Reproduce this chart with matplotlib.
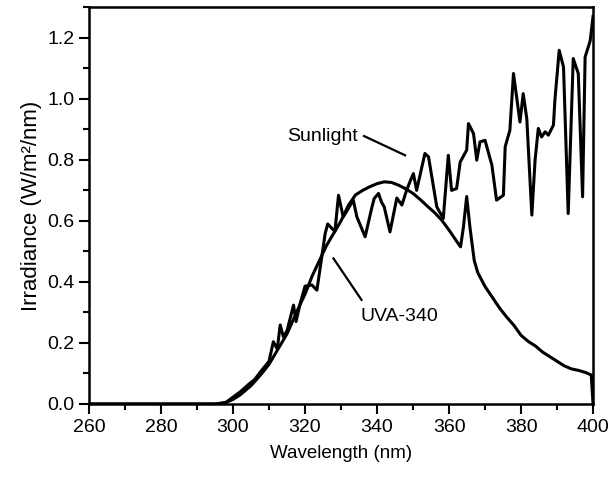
import matplotlib
matplotlib.use("Agg")

import matplotlib.pyplot as plt
from matplotlib.ticker import MultipleLocator, FormatStrFormatter

plt.rcParams["font.family"] = ["Liberation Sans", "DejaVu Sans"]

# Sunlight spectrum (nm, W/m2/nm)
sun_nm = [260, 296, 298, 299.6, 302, 304.7, 306, 308, 310, 311.2, 312.3, 313.1, 314, 315,
          316.8, 317.5, 318.6, 320, 321.9, 323.3, 325.6, 326.3, 328.3, 329.3, 330.6, 331.5,
          333.4, 334.4, 336.7, 338.5, 339.2, 340.4, 341.3, 342, 343.6, 345.5, 346.9, 348.2,
          349.2, 350.1, 351, 353.3, 354.3, 356.6, 358.4, 359.8, 360.7, 362.1, 363.1, 364.9,
          365.4, 366.8, 367.7, 368.6, 370, 371.9, 373.2, 375.1, 375.6, 376.9, 377.9, 379.7,
          380.6, 381.6, 383, 383.9, 384.8, 385.7, 386.7, 387.6, 389, 389.4, 390.6, 391.8,
          393.1, 394.5, 395.9, 397.1, 397.8, 399.2, 400]
sun_val = [0.0, 0.0, 0.005, 0.019, 0.04, 0.068, 0.08, 0.111, 0.14, 0.204, 0.18, 0.259, 0.22, 0.24,
           0.324, 0.27, 0.327, 0.386, 0.39, 0.373, 0.559, 0.59, 0.565, 0.684, 0.613, 0.63,
           0.668, 0.613, 0.548, 0.641, 0.673, 0.69, 0.66, 0.646, 0.564, 0.675, 0.652, 0.70,
           0.73, 0.755, 0.70, 0.821, 0.81, 0.646, 0.608, 0.815, 0.70, 0.706, 0.793, 0.832,
           0.919, 0.886, 0.799, 0.859, 0.864, 0.783, 0.668, 0.684, 0.843, 0.897, 1.083, 0.924,
           1.017, 0.935, 0.619, 0.799, 0.903, 0.875, 0.892, 0.881, 0.914, 0.995, 1.159, 1.104,
           0.624, 1.132, 1.083, 0.679, 1.137, 1.19, 1.27]

# UVA-340 lamp spectrum
uva_nm = [260, 295, 298, 300, 302, 305, 308, 310, 312, 315, 318, 320, 322, 324, 326, 328,
          330, 332, 334, 336, 338, 340, 342, 344, 346, 348, 350, 352, 354, 356, 358, 360,
          362, 363.2, 364, 364.9, 365.8, 367, 368, 370, 372, 374, 376, 378, 380, 382, 384,
          386, 388, 390, 392, 394, 396, 398, 399.5, 400]
uva_val = [0.0, 0.0, 0.005, 0.015, 0.03, 0.06, 0.10, 0.13, 0.17, 0.23, 0.31, 0.36, 0.42, 0.47,
           0.52, 0.56, 0.60, 0.65, 0.685, 0.70, 0.712, 0.722, 0.728, 0.726, 0.717, 0.705,
           0.69, 0.67, 0.648, 0.627, 0.602, 0.57, 0.535, 0.515, 0.58, 0.68, 0.58, 0.47, 0.43,
           0.385, 0.35, 0.315, 0.285, 0.258, 0.225, 0.205, 0.19, 0.17, 0.155, 0.14, 0.125,
           0.115, 0.11, 0.103, 0.095, 0.0]

fig = plt.figure(figsize=(6.11, 4.79), dpi=100)
ax = fig.add_axes([0.1457, 0.1566, 0.8249, 0.8282])

ax.plot(sun_nm, sun_val, color="black", lw=2.2)
ax.plot(uva_nm, uva_val, color="black", lw=2.2)

ax.set_xlim(260, 400)
ax.set_ylim(0, 1.3)
ax.xaxis.set_major_locator(MultipleLocator(20))
ax.xaxis.set_minor_locator(MultipleLocator(10))
ax.yaxis.set_major_locator(MultipleLocator(0.2))
ax.yaxis.set_minor_locator(MultipleLocator(0.1))
ax.yaxis.set_major_formatter(FormatStrFormatter("%.1f"))
ax.tick_params(which="both", direction="out", width=1.5, top=False, right=False,
               labelsize=14)
ax.tick_params(which="major", length=7)
ax.tick_params(which="minor", length=4)
for s in ax.spines.values():
    s.set_linewidth(1.8)

ax.set_xlabel("Wavelength (nm)", fontsize=13.5, labelpad=7)
ax.set_ylabel("Irradiance (W/m²/nm)", fontsize=16, labelpad=4)

# curve labels with leader lines
ax.text(324.9, 0.875, "Sunlight", ha="center", va="center", fontsize=14)
ax.plot([336.4, 347.8], [0.878, 0.815], color="black", lw=1.6)
ax.text(346.1, 0.286, "UVA-340", ha="center", va="center", fontsize=14)
ax.plot([327.9, 335.7], [0.477, 0.341], color="black", lw=1.6)

fig.savefig("out.png", dpi=100)
